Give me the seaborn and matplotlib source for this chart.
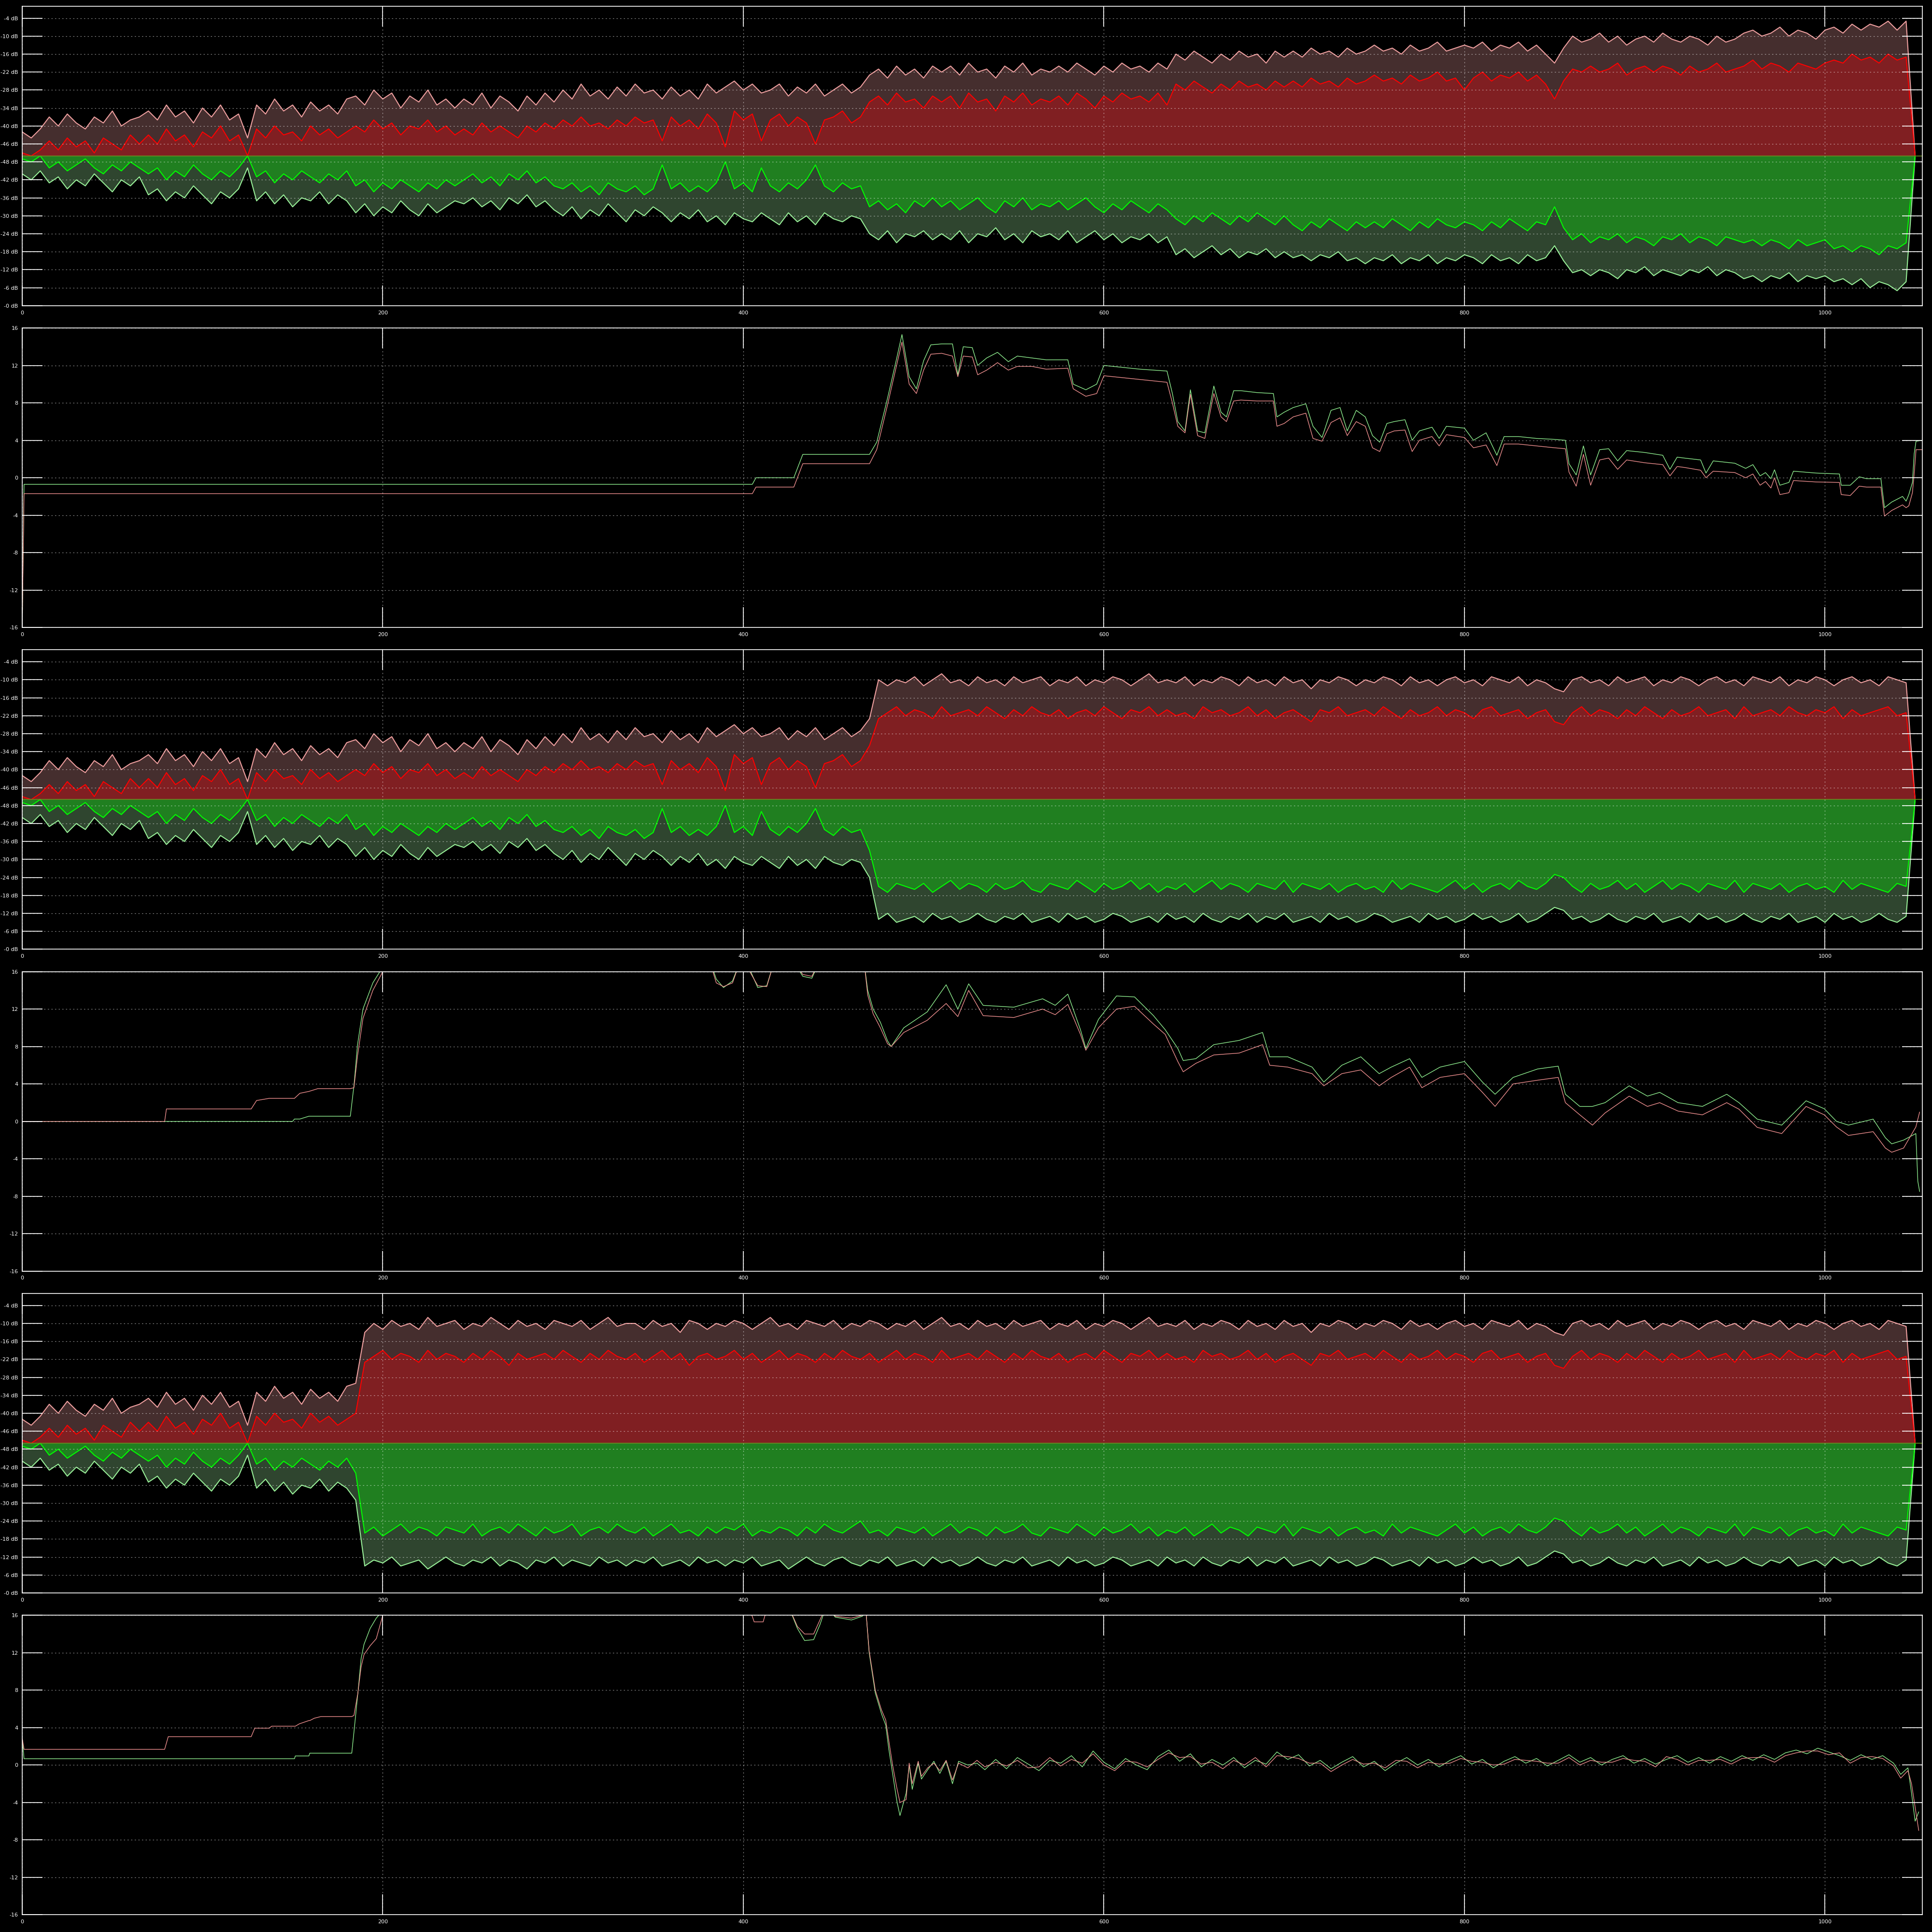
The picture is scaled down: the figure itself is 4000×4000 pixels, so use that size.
import numpy as np
import matplotlib
matplotlib.use("Agg")
import matplotlib.pyplot as plt
import seaborn as sns

sns.set_theme(style="dark")
plt.rcParams['font.family'] = ['DejaVu Sans']

# --- level meters, panel 1 (dB, sampled every 5 frames from 0 to 1050) ---
p1_peak_l = [-42, -44, -41,
             -37, -40, -36, -39, -41, -37, -39, -35, -40, -38, -37,
             -35, -38, -33, -37, -35, -39, -34, -37, -33, -38, -36,
             -44,
             -33, -36, -31, -35, -33, -37, -32, -35, -33, -36, -31,
             -30, -33, -28, -31, -29, -34, -30, -32, -28, -33, -31, -34,
             -31, -33, -29, -34, -30, -32, -35, -30, -33, -29, -32,
             -28, -31, -26, -30, -28, -31, -27, -30, -26, -29, -28, -31,
             -27, -30, -28, -31,
             -26, -29, -27, -25, -28, -26, -29,
             -28, -26, -30, -27, -29, -26, -30, -28, -26, -29, -27,
             -23, -21, -24, -20, -23, -21, -24, -20,
             -22, -20, -23, -19, -22, -21, -24, -20, -22, -19, -23, -21, -22,
             -20, -22, -19, -21, -23, -20, -22, -19, -21, -20, -22, -19, -21,
             -16, -18, -15, -17, -19, -16, -18, -15, -17, -16, -19, -15, -17,
             -15, -17, -14, -16, -15, -17, -14, -16, -15,
             -13, -15, -14, -16, -13, -15, -14, -12, -15, -14, -13,
             -14, -12, -15, -13, -14, -12, -15, -13, -16, -19, -14,
             -10, -12, -11, -9, -12, -10, -13, -11, -10, -12, -9, -11, -12, -10, -11, -13, -10, -12, -11,
             -9, -8, -10, -9, -7, -10, -8, -9, -11, -8,
             -7, -9, -6, -8, -6, -7, -5, -8, -5,
             -50]
p1_rms_l = [-49, -50, -48,
            -45, -48, -44, -47, -45, -49, -44, -46, -48, -43, -46,
            -43, -46, -41, -45, -43, -47, -42, -44, -40, -45, -43,
            -50,
            -41, -44, -40, -43, -42, -45, -40, -43, -41, -44, -42,
            -40, -42, -38, -41, -39, -43, -40, -41, -38, -42, -40, -43,
            -41, -43, -39, -42, -40, -42, -44, -40, -42, -39, -41,
            -38, -40, -37, -40, -39, -41, -38, -40, -37, -39, -38, -45,
            -37, -40, -38, -41,
            -36, -39, -47, -35, -38, -36, -45,
            -38, -36, -40, -37, -39, -46, -38, -37, -35, -39, -37,
            -32, -30, -33, -29, -32, -31, -34, -30,
            -32, -30, -34, -29, -32, -31, -35, -30, -32, -29, -33, -31, -32,
            -30, -33, -29, -31, -34, -30, -32, -29, -31, -30, -32, -29, -33,
            -26, -28, -25, -27, -29, -26, -28, -25, -27, -26, -28, -25, -27,
            -25, -27, -24, -26, -25, -27, -24, -26, -25,
            -23, -25, -24, -26, -23, -25, -24, -22, -25, -24, -28,
            -24, -22, -25, -23, -24, -22, -25, -23, -26, -31, -25,
            -21, -22, -20, -22, -21, -19, -23, -21, -20, -22, -20, -21, -23, -20, -22, -21, -19, -22, -21,
            -20, -18, -21, -19, -20, -22, -19, -20, -21, -19,
            -18, -19, -16, -18, -17, -19, -16, -18, -17,
            -50]
p1_peak_r = [-44, -42, -45,
             -41, -43, -39, -42, -40, -44, -41, -38, -42, -40, -43,
             -37, -39, -35, -38, -36, -40, -37, -34, -38, -36, -39,
             -46,
             -35, -38, -34, -37, -33, -36, -35, -38, -34, -37, -35,
             -31, -34, -30, -33, -31, -35, -32, -30, -34, -31, -33, -35,
             -34, -36, -33, -35, -32, -36, -34, -37, -33, -35, -32,
             -30, -33, -29, -32, -30, -34, -31, -28, -32, -30, -33, -31,
             -28, -31, -29, -32,
             -28, -30, -27, -31, -29, -28, -31,
             -29, -27, -31, -28, -30, -27, -31, -29, -28, -30, -29,
             -24, -22, -25, -21, -24, -23, -25, -22,
             -24, -22, -25, -21, -24, -23, -26, -22, -24, -21, -25, -23, -24,
             -22, -25, -21, -23, -25, -22, -24, -21, -23, -22, -24, -21, -23,
             -17, -19, -16, -18, -20, -17, -19, -16, -18, -17, -19, -16, -18,
             -16, -17, -15, -17, -16, -18, -15, -16, -14,
             -16, -15, -17, -14, -16, -15, -17, -14, -16, -15, -17,
             -16, -14, -17, -15, -16, -14, -17, -15, -16, -20, -15,
             -11, -12, -10, -12, -11, -9, -12, -11, -13, -10, -12, -11, -10, -12, -11, -13, -10, -12, -11,
             -9, -10, -8, -10, -9, -11, -8, -10, -9, -10,
             -8, -9, -7, -9, -6, -8, -7, -5, -8,
             -50]
p1_rms_r = [-49, -48, -50,
            -46, -48, -45, -47, -49, -46, -44, -47, -45, -48, -46,
            -44, -46, -42, -45, -43, -47, -44, -42, -45, -43, -46,
            -50,
            -43, -45, -41, -44, -42, -45, -43, -41, -44, -42, -45,
            -40, -42, -38, -41, -39, -42, -40, -38, -41, -39, -42, -40,
            -42, -44, -41, -43, -40, -44, -42, -45, -41, -43, -40,
            -39, -41, -38, -40, -37, -41, -39, -38, -40, -37, -39, -47,
            -39, -41, -38, -40,
            -38, -41, -48, -39, -41, -38, -46,
            -40, -38, -41, -39, -42, -47, -40, -38, -41, -39, -40,
            -33, -35, -32, -34, -31, -35, -33, -36,
            -33, -35, -32, -34, -36, -33, -31, -35, -33, -36, -32, -34, -33,
            -35, -32, -34, -36, -33, -31, -34, -32, -35, -33, -31, -34, -32,
            -29, -27, -30, -28, -31, -29, -27, -30, -28, -31, -29, -27, -30,
            -27, -25, -28, -26, -29, -27, -25, -28, -26,
            -28, -26, -29, -27, -25, -28, -26, -29, -27, -26, -28,
            -27, -25, -28, -26, -29, -27, -25, -28, -27, -33, -26,
            -22, -24, -21, -23, -22, -24, -21, -23, -22, -20, -23, -22, -24, -21, -23, -22, -20, -23, -22,
            -21, -22, -20, -22, -21, -19, -22, -20, -21, -22,
            -19, -20, -18, -20, -19, -17, -20, -19, -21,
            -50]

# --- steady loud section shared by panels 3 and 5 (x = 190 ... 1050) ---
steady_peak_l = [-13, -10, -12, -9, -11, -10, -12, -8, -11, -10,
                 -9, -12, -10, -11, -8, -10, -12, -9, -11, -10,
                 -12, -9, -10, -11, -9, -12, -10, -8, -11, -10,
                 -10, -12, -9, -11, -10, -13, -9, -10, -12, -10,
                 -11, -9, -10, -12, -10, -8, -11, -10, -12, -9,
                 -10, -11, -9, -12, -10, -11, -9, -10, -12, -10,
                 -11, -9, -12, -10, -8, -11, -10, -12, -9, -11,
                 -10, -12, -9, -11, -10, -9, -12, -10, -11, -9,
                 -12, -10, -11, -9, -10, -12, -10, -8, -11, -10,
                 -11, -9, -12, -10, -11, -9, -10, -12, -9, -11,
                 -10, -12, -9, -11, -10, -13, -10, -11, -9, -10,
                 -12, -10, -11, -9, -10, -12, -9, -11, -10, -12,
                 -10, -9, -11, -10, -12, -9, -10, -11, -9, -12,
                 -10, -11, -13, -14, -10, -9, -11, -10, -12, -9,
                 -11, -10, -9, -12, -10, -11, -9, -10, -12, -10,
                 -9, -11, -10, -12, -9, -10, -11, -9, -12, -10,
                 -11, -9, -10, -12, -10, -9, -11, -10, -12, -9,
                 -10, -11, -50]
steady_rms_l = [-23, -21, -19, -22, -20, -21, -23, -19, -22, -20,
                -21, -23, -20, -22, -19, -21, -24, -20, -22, -21,
                -20, -22, -19, -21, -23, -20, -22, -19, -21, -22,
                -20, -23, -21, -19, -22, -20, -24, -21, -20, -22,
                -21, -19, -22, -20, -23, -21, -19, -22, -20, -21,
                -23, -20, -22, -19, -21, -22, -20, -23, -21, -19,
                -22, -20, -21, -23, -19, -22, -21, -20, -22, -19,
                -21, -23, -20, -22, -19, -21, -22, -20, -23, -21,
                -20, -22, -19, -21, -23, -20, -21, -19, -22, -20,
                -22, -21, -23, -19, -21, -20, -22, -21, -19, -22,
                -20, -23, -21, -20, -22, -24, -20, -21, -19, -22,
                -21, -20, -22, -19, -21, -23, -20, -22, -21, -19,
                -22, -20, -21, -23, -20, -19, -22, -21, -20, -23,
                -21, -20, -24, -25, -21, -19, -22, -20, -21, -23,
                -20, -22, -19, -21, -23, -20, -22, -21, -19, -22,
                -21, -20, -23, -19, -22, -21, -20, -22, -19, -21,
                -22, -20, -21, -19, -23, -20, -22, -21, -20, -19,
                -22, -21, -50]
steady_peak_r = [-9, -11, -10, -12, -9, -10, -11, -8, -10, -12,
                 -10, -9, -11, -10, -12, -9, -11, -10, -8, -11,
                 -10, -12, -9, -11, -10, -9, -12, -10, -11, -9,
                 -11, -10, -12, -9, -10, -11, -9, -12, -10, -11,
                 -9, -11, -10, -12, -9, -10, -11, -8, -10, -12,
                 -10, -9, -11, -12, -10, -9, -11, -10, -12, -9,
                 -10, -11, -9, -12, -10, -11, -9, -10, -12, -10,
                 -9, -11, -10, -12, -9, -10, -11, -9, -12, -10,
                 -11, -9, -10, -12, -11, -9, -10, -11, -9, -12,
                 -10, -11, -9, -12, -10, -9, -11, -10, -12, -9,
                 -11, -10, -12, -9, -10, -11, -9, -12, -10, -11,
                 -9, -10, -12, -11, -9, -10, -11, -9, -12, -10,
                 -11, -9, -10, -12, -10, -11, -9, -10, -12, -9,
                 -10, -12, -14, -13, -10, -11, -9, -10, -12, -10,
                 -9, -11, -10, -12, -9, -10, -11, -9, -12, -10,
                 -11, -9, -10, -12, -10, -9, -11, -10, -12, -9,
                 -10, -11, -9, -12, -10, -11, -9, -10, -12, -10,
                 -9, -11, -50]
steady_rms_r = [-20, -22, -19, -21, -23, -20, -22, -21, -19, -22,
                -21, -20, -23, -19, -21, -22, -20, -23, -21, -19,
                -22, -20, -21, -23, -19, -21, -22, -20, -23, -21,
                -20, -22, -19, -21, -23, -20, -21, -19, -22, -20,
                -22, -21, -23, -19, -21, -20, -22, -21, -19, -22,
                -20, -23, -21, -20, -22, -24, -20, -21, -19, -22,
                -21, -20, -22, -19, -21, -23, -20, -22, -21, -19,
                -22, -20, -21, -23, -20, -19, -22, -21, -20, -23,
                -21, -19, -22, -20, -21, -23, -20, -22, -19, -21,
                -20, -22, -19, -21, -23, -20, -22, -21, -19, -22,
                -21, -20, -23, -19, -22, -21, -20, -22, -19, -21,
                -22, -20, -21, -19, -23, -20, -22, -21, -20, -19,
                -21, -23, -20, -22, -19, -21, -22, -20, -23, -21,
                -20, -22, -25, -24, -21, -19, -22, -20, -21, -23,
                -20, -22, -19, -21, -23, -20, -22, -21, -19, -22,
                -21, -20, -23, -19, -22, -21, -20, -22, -19, -21,
                -22, -20, -21, -19, -23, -20, -22, -21, -20, -19,
                -22, -21, -50]

# --- balance traces (frame, green, pink) ---
bal1_x = [0, 1, 405, 407, 428, 433, 470, 474, 480, 485, 488, 492, 496, 500, 504, 510, 516, 519, 522, 527,
          530, 535, 541, 547, 552, 560, 568, 580, 583, 590, 596, 600, 610, 620, 635, 638, 641, 645, 648, 652,
          656, 661, 665, 668, 672, 676, 685, 694, 696, 700, 705, 712, 716, 721, 726, 731, 735, 740, 745, 749,
          753, 757, 761, 767, 771, 775, 782, 786, 790, 800, 805, 812, 818, 822, 830, 840, 850, 856, 858, 862,
          866, 870, 875, 880, 885, 890, 900, 910, 914, 918, 922, 931, 934, 938, 950, 956, 960, 964, 967, 970,
          972, 975, 980, 982.5, 995, 1008, 1009, 1014, 1019, 1023, 1031, 1033, 1037, 1043, 1045, 1046.5, 1048.5,
          1049.5, 1050.5, 1054]
bal1_g = [-16, -0.7, -0.7, 0.0, 0.0, 2.5, 2.5, 3.8, 8.5, 12.7, 15.3, 10.8, 9.5, 12.5, 14.2, 14.3, 14.3, 11.0, 14.0, 13.9,
          12.0, 12.8, 13.4, 12.4, 13.0, 12.8, 12.6, 12.6, 10.0, 9.4, 10.0, 12.0, 11.8, 11.6, 11.4, 9.0, 6.0, 5.0, 9.4, 5.0,
          4.8, 9.8, 7.0, 6.5, 9.3, 9.3, 9.1, 9.0, 6.5, 7.0, 7.5, 7.9, 5.5, 4.3, 7.2, 7.5, 5.0, 7.2, 6.5, 4.5,
          3.8, 5.8, 6.0, 6.2, 4.0, 5.0, 5.4, 4.2, 5.5, 5.3, 4.0, 4.8, 2.4, 4.4, 4.4, 4.2, 4.1, 4.0, 1.5, 0.3,
          3.4, 0.3, 3.0, 3.1, 1.8, 2.9, 2.7, 2.4, 0.9, 2.2, 2.1, 1.9, 0.5, 1.8, 1.55, 1.0, 1.4, 0.2, 0.55, -0.1,
          0.85, -0.8, -0.5, 0.7, 0.5, 0.4, -0.8, -0.8, 0.1, -0.1, -0.1, -3.2, -2.6, -2.0, -2.5, -1.8, -0.5,
          2.6, 3.9, 4.0]
bal1_p = [-16, -1.7, -1.7, -1.0, -1.0, 1.5, 1.5, 3.0, 7.8, 12.0, 14.5, 10.0, 9.0, 11.5, 13.2, 13.3, 13.0, 10.8, 13.0, 12.9,
          11.0, 11.5, 12.3, 11.5, 11.9, 11.9, 11.6, 11.7, 9.5, 8.7, 9.0, 10.9, 10.7, 10.5, 10.2, 8.0, 5.5, 4.8, 8.9, 4.5,
          4.2, 9.0, 6.5, 6.0, 8.2, 8.3, 8.2, 8.2, 5.5, 5.8, 6.5, 6.9, 4.2, 3.9, 5.9, 6.4, 4.5, 6.0, 5.5, 3.2,
          2.8, 4.7, 5.0, 5.1, 2.8, 4.0, 4.4, 3.4, 4.6, 4.3, 3.2, 3.5, 1.3, 3.6, 3.6, 3.4, 3.2, 3.1, 0.6, -0.9,
          2.5, -0.8, 1.9, 2.1, 0.9, 1.9, 1.6, 1.4, 0.2, 1.2, 1.1, 0.8, 0.0, 0.7, 0.55, 0.0, 0.4, -0.8, -0.4, -1.1,
          0.0, -1.8, -1.6, -0.3, -0.45, -0.5, -1.8, -1.9, -0.9, -1.0, -1.0, -4.1, -3.5, -2.9, -3.2, -3.0, -1.6,
          0.5, 3.0, 3.0]

bal2_x = [0, 79, 80, 127, 130, 137, 150, 151, 154, 159, 164, 182, 184, 186, 189, 194.5, 200, 205, 380, 385,
          389, 394, 398, 403, 408, 413, 417, 428, 433, 438, 442, 467, 469, 472, 476, 480, 482, 489, 502, 512.5,
          519, 525, 533, 550, 566, 573, 580, 587, 590, 597, 607, 617, 627.5, 634, 641, 644, 651, 661, 675, 688,
          692, 702, 715.5, 722, 732, 742.5, 752.7, 759.4, 769.6, 776.4, 786.5, 800, 810, 817, 827, 840.6, 852, 856, 864, 871,
          878, 891.4, 901.5, 908.3, 918.5, 932, 945.5, 952.3, 962.4, 976, 989.5, 999.6, 1006.4, 1013, 1026.7, 1033.5,
          1037, 1043.6, 1050.4, 1051.5, 1052.5]
bal2_g = [0.0, 0.0, 0.0, 0.0, 0.0, 0.0, 0.0, 0.25, 0.25, 0.55, 0.55, 0.55, 3.8, 8.2, 12.0, 14.8, 16.5, 18, 18, 15.2,
          14.3, 15.0, 17, 16.5, 14.3, 14.5, 17, 17, 15.5, 15.3, 17, 17, 14.0, 12.0, 10.6, 8.6, 8.0, 10.0, 11.7, 14.6,
          12.0, 14.7, 12.4, 12.2, 13.1, 12.4, 13.6, 9.8, 7.8, 10.9, 13.4, 13.3, 11.3, 9.8, 7.8, 6.5, 6.7, 8.2, 8.65, 9.5,
          6.9, 6.9, 5.8, 4.2, 6.0, 6.9, 5.1, 5.8, 6.7, 4.7, 5.8, 6.4, 4.2, 2.9, 4.7, 5.6, 5.9, 2.9, 1.6, 1.6,
          2.0, 3.8, 2.7, 3.1, 2.0, 1.6, 2.9, 2.0, 0.24, -0.4, 2.2, 1.35, 0.0, -0.4, 0.24, -1.75,
          -2.4, -2.0, -1.3, -6.4, -7.5]
bal2_p = [0.0, 0.0, 1.33, 1.33, 2.23, 2.46, 2.46, 2.46, 3.0, 3.2, 3.5, 3.5, 3.6, 7.0, 11.0, 14.0, 16.0, 18, 18, 14.8,
          14.4, 14.8, 17, 16.2, 14.5, 14.4, 17, 17, 15.7, 15.5, 17, 17, 13.5, 11.5, 10.0, 8.3, 8.0, 9.5, 10.8, 12.6,
          11.2, 14.0, 11.3, 11.1, 12.0, 11.4, 12.5, 9.3, 7.6, 10.0, 12.0, 12.3, 10.4, 9.3, 6.4, 5.3, 6.2, 7.1, 7.3, 8.2,
          6.0, 5.8, 5.1, 3.8, 5.1, 5.5, 3.8, 4.7, 5.8, 3.6, 4.7, 5.1, 3.1, 1.6, 4.0, 4.4, 4.7, 2.0, 0.7, -0.4,
          0.9, 2.7, 1.6, 2.0, 1.1, 0.7, 2.0, 1.3, -0.64, -1.3, 1.6, 0.7, -0.6, -1.5, -1.1, -2.85,
          -3.3, -2.85, -0.6, 0.24, 1.0]

bal3_x = [0, 1, 79, 81, 127, 129, 137, 138.4, 151, 151.5, 153.7, 159, 159.5, 162, 165.7, 182.8, 184, 186.2, 188, 189.6,
          193, 196.4, 200, 205, 385, 388, 392, 403, 406, 411, 415, 425, 430, 434, 439, 442.5, 446, 451, 460, 466,
          468, 469.8, 473.2, 476.6, 479, 480.7, 482.8, 485.2, 486.9, 490.3, 492, 493.7, 497, 498.8, 502.3, 505.7, 509, 512.5, 516, 519.4,
          524.5, 529.6, 534, 540, 546, 552, 558, 564, 570, 576, 582, 588, 594, 600, 606, 612, 618, 624, 630, 636,
          642, 648, 654, 660, 666, 672, 678, 684, 690, 696, 702, 708, 714, 720, 726, 732, 738, 744, 750, 756,
          762, 768, 774, 780, 786, 792, 798, 804, 810, 816, 822, 828, 834, 840, 846, 852, 858, 864, 870, 876,
          882, 888, 894, 900, 906, 912, 918, 924, 930, 936, 942, 948, 954, 960, 966, 972, 978, 984, 990, 996,
          1002, 1008, 1014, 1020, 1026, 1032, 1038, 1042, 1046, 1048, 1050, 1052]
bal3_g = [2.9, 0.67, 0.67, 0.67, 0.67, 0.67, 0.67, 0.67, 0.67, 0.97, 0.97, 0.97, 1.27, 1.27, 1.27, 1.27, 3.5, 7.7, 11.4, 12.9,
          14.6, 15.7, 16.5, 18, 18, 18, 18, 18, 17, 17, 18, 17, 14.6, 13.3, 13.4, 15.0, 17, 15.8, 15.5, 15.9,
          16.5, 12.0, 7.7, 5.5, 4.26, 1.7, -0.9, -3.9, -5.4, -3.0, 0.0, -2.6, 0.2, -1.5, -0.5, 0.4, -0.9, 0.4, -2.0, 0.4,
          0.0, 0.2, -0.5, 0.6, -0.4, 0.8, 0.1, -0.6, 0.5, 0.2, 1.0, -0.2, 1.5, 0.3, -0.4, 0.7, 0.0, -0.5, 0.9, 1.6,
          0.4, 1.2, -0.2, 0.6, 0.0, 0.8, -0.3, 0.5, 0.1, 1.4, 0.6, 1.1, -0.1, 0.5, -0.4, 0.3, 0.9, -0.2, 0.4, -0.6,
          0.2, 0.8, 0.0, 0.6, -0.2, 0.5, 1.0, 0.1, 0.6, -0.3, 0.4, 0.9, 0.2, 0.7, -0.1, 0.5, 1.1, 0.3, 0.8, 0.0,
          0.6, 1.0, 0.2, 0.7, 0.1, 0.6, 1.0, 0.3, 0.8, 0.2, 0.9, 0.4, 1.0, 0.5, 1.1, 0.6, 1.3, 1.6, 1.2, 1.8,
          1.4, 1.0, 0.5, 1.1, 0.6, 1.0, 0.2, -1.0, -0.3, -3.0, -6.0, -5.0]
bal3_p = [2.9, 1.68, 1.68, 3.03, 3.03, 3.94, 3.94, 4.15, 4.15, 4.15, 4.4, 4.75, 4.75, 5.0, 5.18, 5.18, 5.3, 7.7, 10.5, 11.8,
          12.75, 13.5, 16.0, 18, 18, 16.0, 18, 17, 15.3, 15.3, 18, 17, 14.8, 14.0, 14.0, 15.5, 17, 15.9, 15.7, 16.0,
          16.5, 12.2, 8.0, 5.9, 4.8, 2.6, 0.0, -2.5, -4.0, -3.7, 0.2, -2.0, 0.4, -1.2, -0.3, 0.2, -0.6, 0.5, -1.6, 0.2,
          -0.3, 0.5, -0.2, 0.3, -0.1, 0.5, -0.3, -0.2, 0.8, -0.1, 0.6, 0.2, 1.2, 0.0, -0.6, 0.4, 0.3, -0.2, 0.6, 1.3,
          0.8, 0.9, 0.1, 0.3, -0.4, 0.5, 0.0, 0.8, -0.2, 1.0, 0.9, 0.7, 0.2, 0.2, -0.7, 0.0, 0.6, 0.1, 0.2, -0.3,
          0.5, 0.4, -0.3, 0.3, 0.1, 0.2, 0.7, 0.4, 0.3, 0.0, 0.1, 0.6, 0.5, 0.4, 0.2, 0.2, 0.8, 0.0, 0.5, 0.3,
          0.3, 0.7, 0.5, 0.4, -0.2, 0.9, 0.6, 0.0, 0.5, 0.5, 0.6, 0.1, 0.7, 0.8, 0.8, 0.3, 1.0, 1.3, 1.5, 1.5,
          1.1, 1.3, 0.2, 0.8, 0.9, 0.7, -0.1, -1.4, -0.6, -2.0, -4.5, -7.0]

x_ticks = [0, 200, 400, 600, 800, 1000]
level_ticks = [46, 40, 34, 28, 22, 16, 10, 4, -2, -8, -14, -20, -26, -32, -38, -44, -50]
level_labels = ['-4 dB', '-10 dB', '-16 dB', '-22 dB', '-28 dB', '-34 dB', '-40 dB', '-46 dB',
                '-48 dB', '-42 dB', '-36 dB', '-30 dB', '-24 dB', '-18 dB', '-12 dB', '-6 dB', '-0 dB']
bal_ticks = [16, 12, 8, 4, 0, -4, -8, -12, -16]

# panel 3 and 5 follow panel 1 until the loudness jumps
split3 = 95   # frames 0..470
split5 = 38   # frames 0..185
k3 = 57       # steady index for frame 475
levels = [
    (p1_peak_l, p1_rms_l, p1_peak_r, p1_rms_r),
    (p1_peak_l[:split3] + steady_peak_l[k3:], p1_rms_l[:split3] + steady_rms_l[k3:],
     p1_peak_r[:split3] + steady_peak_r[k3:], p1_rms_r[:split3] + steady_rms_r[k3:]),
    (p1_peak_l[:split5] + steady_peak_l, p1_rms_l[:split5] + steady_rms_l,
     p1_peak_r[:split5] + steady_peak_r, p1_rms_r[:split5] + steady_rms_r),
]
balances = [(bal1_x, bal1_g, bal1_p), (bal2_x, bal2_g, bal2_p), (bal3_x, bal3_g, bal3_p)]

fig = plt.figure(figsize=(40, 40), dpi=100, facecolor='black')


def style_axes(ax, yticks, ylabels, ylim):
    ax.set_facecolor('black')
    ax.set_xlim(0, 1054)
    ax.set_ylim(*ylim)
    ax.set_xticks(x_ticks)
    ax.set_xticklabels([str(t) for t in x_ticks])
    ax.set_yticks(yticks)
    ax.set_yticklabels(ylabels)
    ax.tick_params(direction='in', length=30, width=1.2, color='white', top=True, right=True,
                   labelcolor='white', labelsize=8, left=True, bottom=True)
    ax.tick_params(axis='y', pad=6)
    ax.tick_params(axis='x', pad=7)
    ax.set_axisbelow(False)
    ax.grid(True, color='white', alpha=0.55, linestyle=(0, (2, 4)), linewidth=0.9)
    for s in ax.spines.values():
        s.set_color('white')
        s.set_linewidth(1.2)
    ax.set_xlabel('')
    ax.set_ylabel('')


for i in range(6):
    top_px = 12.8 + 666.3 * i
    ax = fig.add_axes([46 / 4000, 1 - (top_px + 620) / 4000, 3934 / 4000, 620 / 4000])
    if i % 2 == 0:
        pk_l, rm_l, pk_r, rm_r = levels[i // 2]
        x = 5 * np.arange(len(pk_l))
        up_pk = np.array(pk_l) + 50
        up_rm = np.array(rm_l) + 50
        dn_pk = -(np.array(pk_r) + 50)
        dn_rm = -(np.array(rm_r) + 50)
        ax.fill_between(x, 0, up_pk, color='#452e2e', linewidth=0)
        ax.fill_between(x, 0, up_rm, color='#801f22', linewidth=0)
        ax.fill_between(x, 0, dn_pk, color='#2f452f', linewidth=0)
        ax.fill_between(x, 0, dn_rm, color='#207f20', linewidth=0)
        sns.lineplot(x=x, y=up_pk, ax=ax, color='#f0a0a0', linewidth=1.5, estimator=None)
        sns.lineplot(x=x, y=up_rm, ax=ax, color='#ff0000', linewidth=1.5, estimator=None)
        sns.lineplot(x=x, y=dn_pk, ax=ax, color='#98f098', linewidth=1.5, estimator=None)
        sns.lineplot(x=x, y=dn_rm, ax=ax, color='#00ff00', linewidth=1.5, estimator=None)
        ax.axhline(0, color='#6b8e23', linewidth=1.2)
        style_axes(ax, level_ticks, level_labels, (-50, 50))
    else:
        bx, bg, bp = balances[i // 2]
        sns.lineplot(x=bx, y=bg, ax=ax, color='#90f090', linewidth=1.0, estimator=None, sort=False)
        sns.lineplot(x=bx, y=bp, ax=ax, color='#f09090', linewidth=1.0, estimator=None, sort=False)
        style_axes(ax, bal_ticks, [str(t) for t in bal_ticks], (-16, 16))

fig.savefig('out.png', dpi=100, facecolor='black')
